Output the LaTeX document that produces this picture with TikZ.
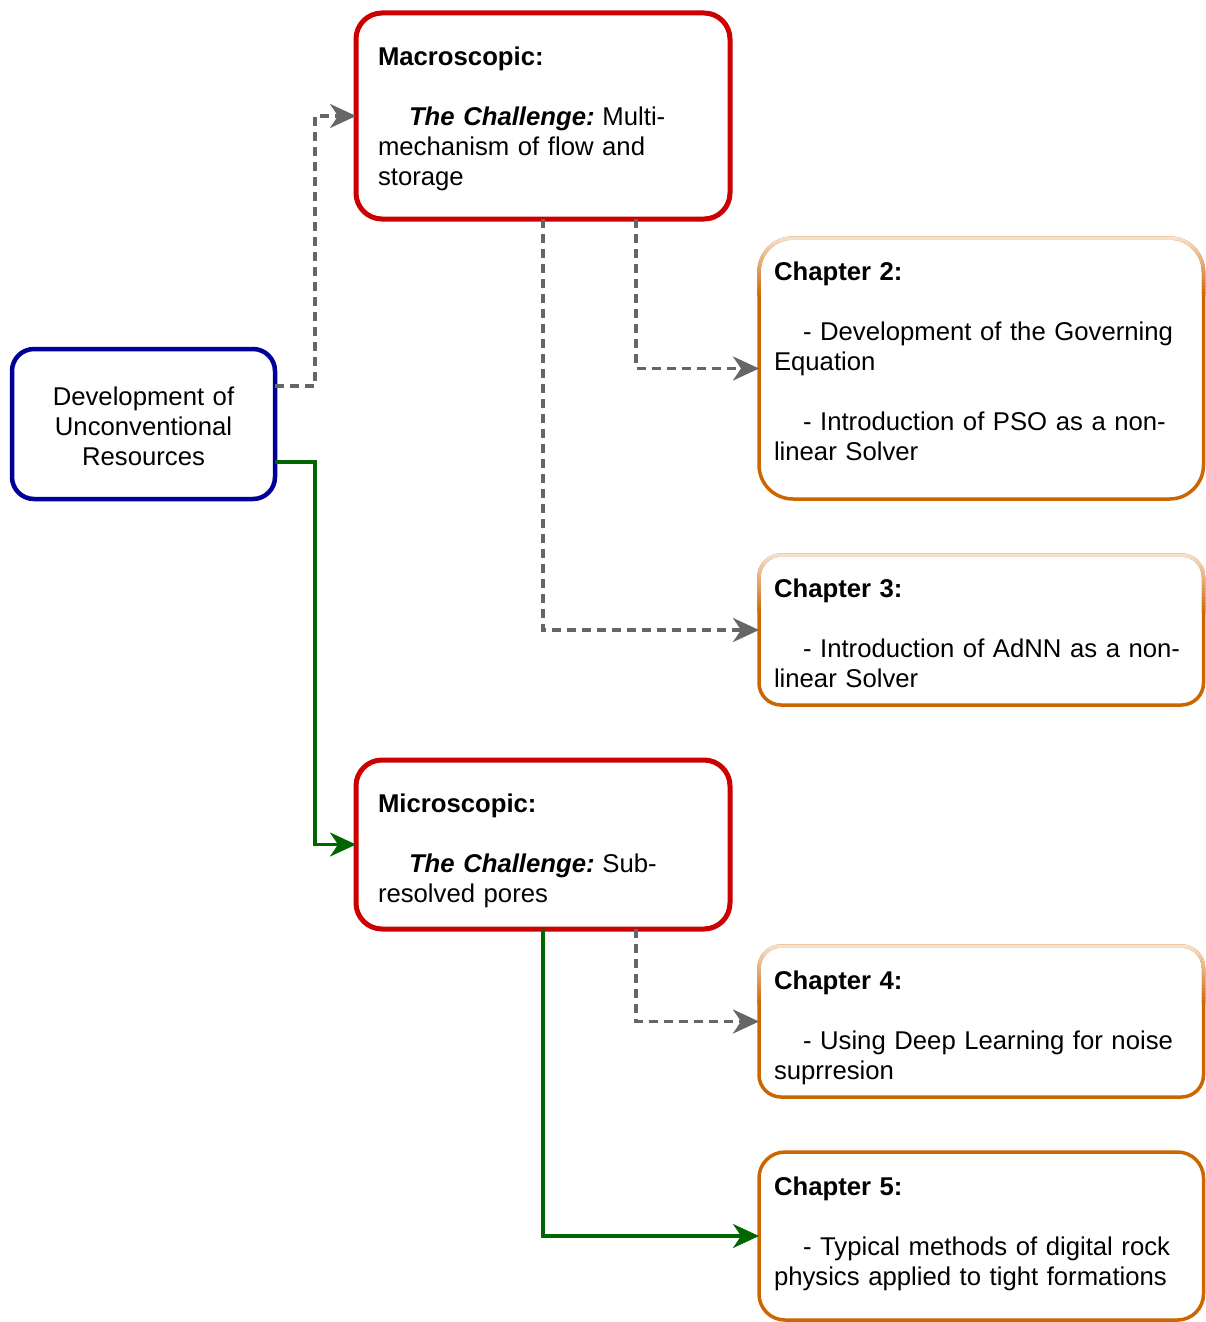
\documentclass[tikz,border=0pt]{standalone}
\usepackage{fontspec}
\setmainfont{Liberation Sans}
\usetikzlibrary{arrows.meta}

\definecolor{bluebox}{RGB}{0,0,153}
\definecolor{redbox}{RGB}{204,0,0}
\definecolor{chorange}{RGB}{204,102,0}
\definecolor{peach}{RGB}{247,228,210}
\definecolor{linkgray}{RGB}{102,102,102}
\definecolor{linkgreen}{RGB}{0,102,0}

% Re-stroke the upper part of a chapter box so that its border fades
% from a pale peach at the top edge into the full orange further down.
\newcommand\fadetopedge[2]{%
  \foreach \i in {0,...,19}{%
    \pgfmathsetmacro\ya{3-3*\i}%
    \pgfmathsetmacro\yb{-3*\i}%
    \pgfmathtruncatemacro\p{5*\i}%
    \begin{scope}
      \clip ([xshift=-6pt,yshift=\ya pt]#1.north west) rectangle ([xshift=6pt,yshift=\yb pt]#1.north east);
      \draw[line width=3.5pt, rounded corners=#2, draw=chorange!\p!peach] (#1.north west) rectangle (#1.south east);
    \end{scope}}}

\newcommand\challenge{{\bfseries\itshape The Challenge:}\hspace{-5pt}}

\begin{document}
\begin{tikzpicture}[x=1pt,y=-1pt,
  every node/.style={font=\fontsize{25.7}{30}\selectfont},
  box/.style={draw, fill=white, outer sep=0pt, inner sep=0pt},
  rootbox/.style={box, draw=bluebox, line width=4.5pt, rounded corners=22pt,
    minimum width=263pt, minimum height=150pt},
  scalebox/.style={box, draw=redbox, line width=5pt, rounded corners=26pt,
    minimum width=374pt},
  chapbox/.style={box, draw=chorange, line width=3.5pt, minimum width=444.5pt},
  roottext/.style={align=center, inner sep=0pt, text width=243pt},
  scaletext/.style={align=left, inner sep=0pt, text width=330pt},
  chaptext/.style={align=left, inner sep=0pt, text width=414.5pt},
  tip/.style={-{Stealth[length=26pt,width=24pt,inset=8pt]}},
  dashlink/.style={draw=linkgray, line width=3.5pt, dash pattern=on 9pt off 6pt, tip},
  solidlink/.style={draw=linkgreen, line width=3.2pt, tip}
]
\useasboundingbox (0,0) rectangle (1206,1322);

% boxes
\node[rootbox] (root) at (143.5,424) {};
\node[scalebox, minimum height=206pt] (macro) at (543,116) {};
\node[scalebox, minimum height=169pt] (micro) at (543,844.5) {};
\node[chapbox, rounded corners=34pt, minimum height=261pt] (ch2) at (981.25,368.5) {};
\node[chapbox, rounded corners=22pt, minimum height=150pt] (ch3) at (981.25,630) {};
\node[chapbox, rounded corners=22pt, minimum height=151pt] (ch4) at (981.25,1021.5) {};
\node[chapbox, rounded corners=26pt, minimum height=168pt] (ch5) at (981.25,1236) {};

\fadetopedge{ch2}{34pt}
\fadetopedge{ch3}{22pt}
\fadetopedge{ch4}{22pt}

% box texts
\node[roottext] (root-t) at ([yshift=-2pt]root.center)
  {Development of\\Unconventional\\Resources};
\node[scaletext] (macro-t) at ([yshift=-3pt]macro.center)
  {\textbf{Macroscopic:}\\[30pt]
   \hspace*{31pt}\challenge{} Multi-\\
   mechanism of flow and\\
   storage};
\node[scaletext] (micro-t) at ([yshift=-6pt]micro.center)
  {\textbf{Microscopic:}\\[30pt]
   \hspace*{31pt}\challenge{} Sub-\\
   resolved pores};
\node[chaptext] (ch2-t) at ([yshift=7pt]ch2.center)
  {\textbf{Chapter 2:}\\[30pt]
   \hspace*{29pt}- Development of the Governing\\
   Equation\\[30pt]
   \hspace*{29pt}- Introduction of PSO as a non-\\
   linear Solver};
\node[chaptext] (ch3-t) at ([yshift=-3pt]ch3.center)
  {\textbf{Chapter 3:}\\[30pt]
   \hspace*{29pt}- Introduction of AdNN as a non-\\
   linear Solver};
\node[chaptext] (ch4-t) at ([yshift=-6pt]ch4.center)
  {\textbf{Chapter 4:}\\[30pt]
   \hspace*{29pt}- Using Deep Learning for noise\\
   suprresion};
\node[chaptext] (ch5-t) at ([yshift=2.5pt]ch5.center)
  {\textbf{Chapter 5:}\\[30pt]
   \hspace*{29pt}- Typical methods of digital rock\\
   physics applied to tight formations};

% connectors
\draw[dashlink] ([yshift=38pt]root.east) -- ++(40,0) |- (macro.west);
\draw[solidlink] ([yshift=-38pt]root.east) -- ++(40,0) |- (micro.west);
\draw[dashlink] ([xshift=93pt]macro.south) |- (ch2.west);
\draw[dashlink] (macro.south) |- (ch3.west);
\draw[dashlink] ([xshift=93pt]micro.south) |- (ch4.west);
\draw[solidlink] (micro.south) |- (ch5.west);
\end{tikzpicture}
\end{document}
